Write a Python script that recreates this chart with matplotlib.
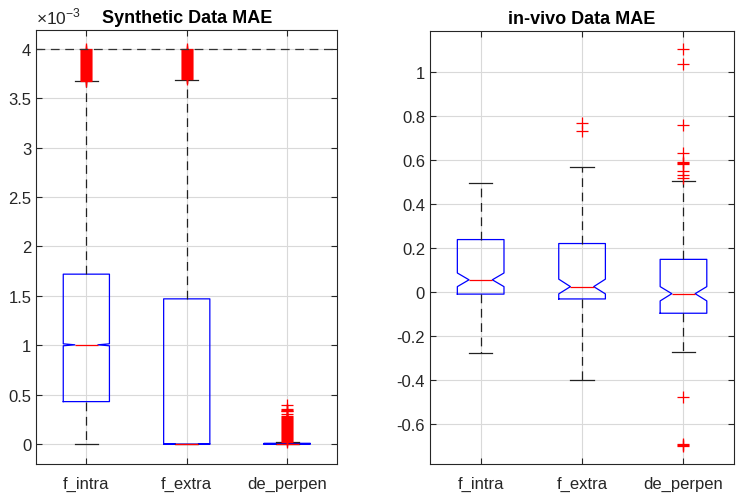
import matplotlib
matplotlib.use("Agg")
import matplotlib.pyplot as plt
from matplotlib.ticker import FormatStrFormatter

plt.rcParams["font.family"] = ["Liberation Sans", "DejaVu Sans"]
plt.rcParams["axes.unicode_minus"] = False
plt.rcParams["mathtext.fontset"] = "custom"
plt.rcParams["mathtext.rm"] = "Liberation Sans"

labels = ["f_intra", "f_extra", "de_perpen"]

# synthetic data, values in units of 1e-3
syn_q1 = [0.43, 0.0, 0.0]
syn_med = [1.005, 0.0, 0.003]
syn_q3 = [1.72, 1.47, 0.008]
syn_cilo = [0.995, 0.0, 0.002]
syn_cihi = [1.015, 0.005, 0.004]
syn_whislo = [0.0, 0.0, 0.0]
syn_whishi = [3.67, 3.69, 0.02]
syn_fliers = [
    [3.68, 3.69, 3.70, 3.71, 3.72, 3.73, 3.74, 3.75, 3.76, 3.77, 3.78,
     3.79, 3.80, 3.81, 3.82, 3.83, 3.84, 3.85, 3.86, 3.87, 3.88, 3.89,
     3.90, 3.91, 3.92, 3.93, 3.94, 3.95, 3.96, 3.97, 3.98, 3.99, 4.00],
    [3.70, 3.71, 3.72, 3.73, 3.74, 3.75, 3.76, 3.77, 3.78, 3.79, 3.80,
     3.81, 3.82, 3.83, 3.84, 3.85, 3.86, 3.87, 3.88, 3.89, 3.90, 3.91,
     3.92, 3.93, 3.94, 3.95, 3.96, 3.97, 3.98, 3.99, 4.00],
    [0.025, 0.035, 0.045, 0.055, 0.065, 0.075, 0.085, 0.095, 0.105,
     0.115, 0.125, 0.135, 0.145, 0.155, 0.165, 0.175, 0.185, 0.195,
     0.205, 0.215, 0.225, 0.235, 0.245, 0.255, 0.265, 0.275, 0.28,
     0.30, 0.33, 0.34, 0.35, 0.36, 0.395],
]
syn_limit = 4.0

# in-vivo data
viv_q1 = [-0.01, -0.032, -0.097]
viv_med = [0.055, 0.024, -0.008]
viv_q3 = [0.238, 0.22, 0.148]
viv_cilo = [0.024, -0.009, -0.041]
viv_cihi = [0.086, 0.058, 0.024]
viv_whislo = [-0.276, -0.40, -0.275]
viv_whishi = [0.494, 0.567, 0.506]
viv_fliers = [
    [],
    [0.73, 0.768],
    [-0.70, -0.695, -0.69, -0.48, 0.518, 0.533, 0.551, 0.583, 0.586,
     0.589, 0.63, 0.76, 1.035, 1.103],
]


def make_stats(q1, med, q3, cilo, cihi, lo, hi, fl):
    stats = []
    for i in range(len(labels)):
        stats.append({"label": labels[i], "q1": q1[i], "med": med[i],
                      "q3": q3[i], "cilo": cilo[i], "cihi": cihi[i],
                      "whislo": lo[i], "whishi": hi[i], "fliers": fl[i]})
    return stats


def draw(ax, stats):
    ax.grid(True, color="#d9d9d9", linewidth=0.8)
    ax.set_axisbelow(True)
    ax.bxp(stats, positions=[1, 2, 3], widths=0.46, shownotches=True,
           boxprops=dict(color="#0000ff", linewidth=0.9),
           medianprops=dict(color="#ff0000", linewidth=0.9),
           whiskerprops=dict(color="#222222", linewidth=0.9,
                             linestyle=(0, (7, 4.5))),
           capprops=dict(color="#222222", linewidth=0.9),
           flierprops=dict(marker="+", markeredgecolor="#ff0000",
                           markersize=8, markeredgewidth=0.9))
    ax.set_xlim(0.5, 3.5)
    ax.tick_params(direction="in", top=True, right=True, labelsize=12,
                   colors="#262626", length=4)
    for s in ax.spines.values():
        s.set_color("#262626")
    ax.yaxis.set_major_formatter(FormatStrFormatter("%g"))
    ax.tick_params(axis="x", pad=9)


fig = plt.figure(figsize=(7.53, 5.02), dpi=100)
ax1 = fig.add_axes([0.048, 0.074, 0.400, 0.864])
ax2 = fig.add_axes([0.571, 0.074, 0.404, 0.862])

draw(ax1, make_stats(syn_q1, syn_med, syn_q3, syn_cilo, syn_cihi,
                     syn_whislo, syn_whishi, syn_fliers))
ax1.axhline(syn_limit, color="#333333", linewidth=0.9, linestyle=(0, (7, 4.5)))
ax1.set_ylim(-0.2, 4.19)
ax1.set_yticks([0, 0.5, 1, 1.5, 2, 2.5, 3, 3.5, 4])
ax1.set_title("Synthetic Data MAE", fontsize=13, fontweight="bold", pad=6)
ax1.text(0.0, 1.008, r"$\times10^{-3}$", transform=ax1.transAxes,
         fontsize=12.5, color="#262626", ha="left", va="bottom")

draw(ax2, make_stats(viv_q1, viv_med, viv_q3, viv_cilo, viv_cihi,
                     viv_whislo, viv_whishi, viv_fliers))
ax2.set_ylim(-0.782, 1.186)
ax2.set_yticks([-0.6, -0.4, -0.2, 0, 0.2, 0.4, 0.6, 0.8, 1])
ax2.set_title("in-vivo Data MAE", fontsize=13, fontweight="bold", pad=6)

fig.savefig("out.png", dpi=100, facecolor="white")
